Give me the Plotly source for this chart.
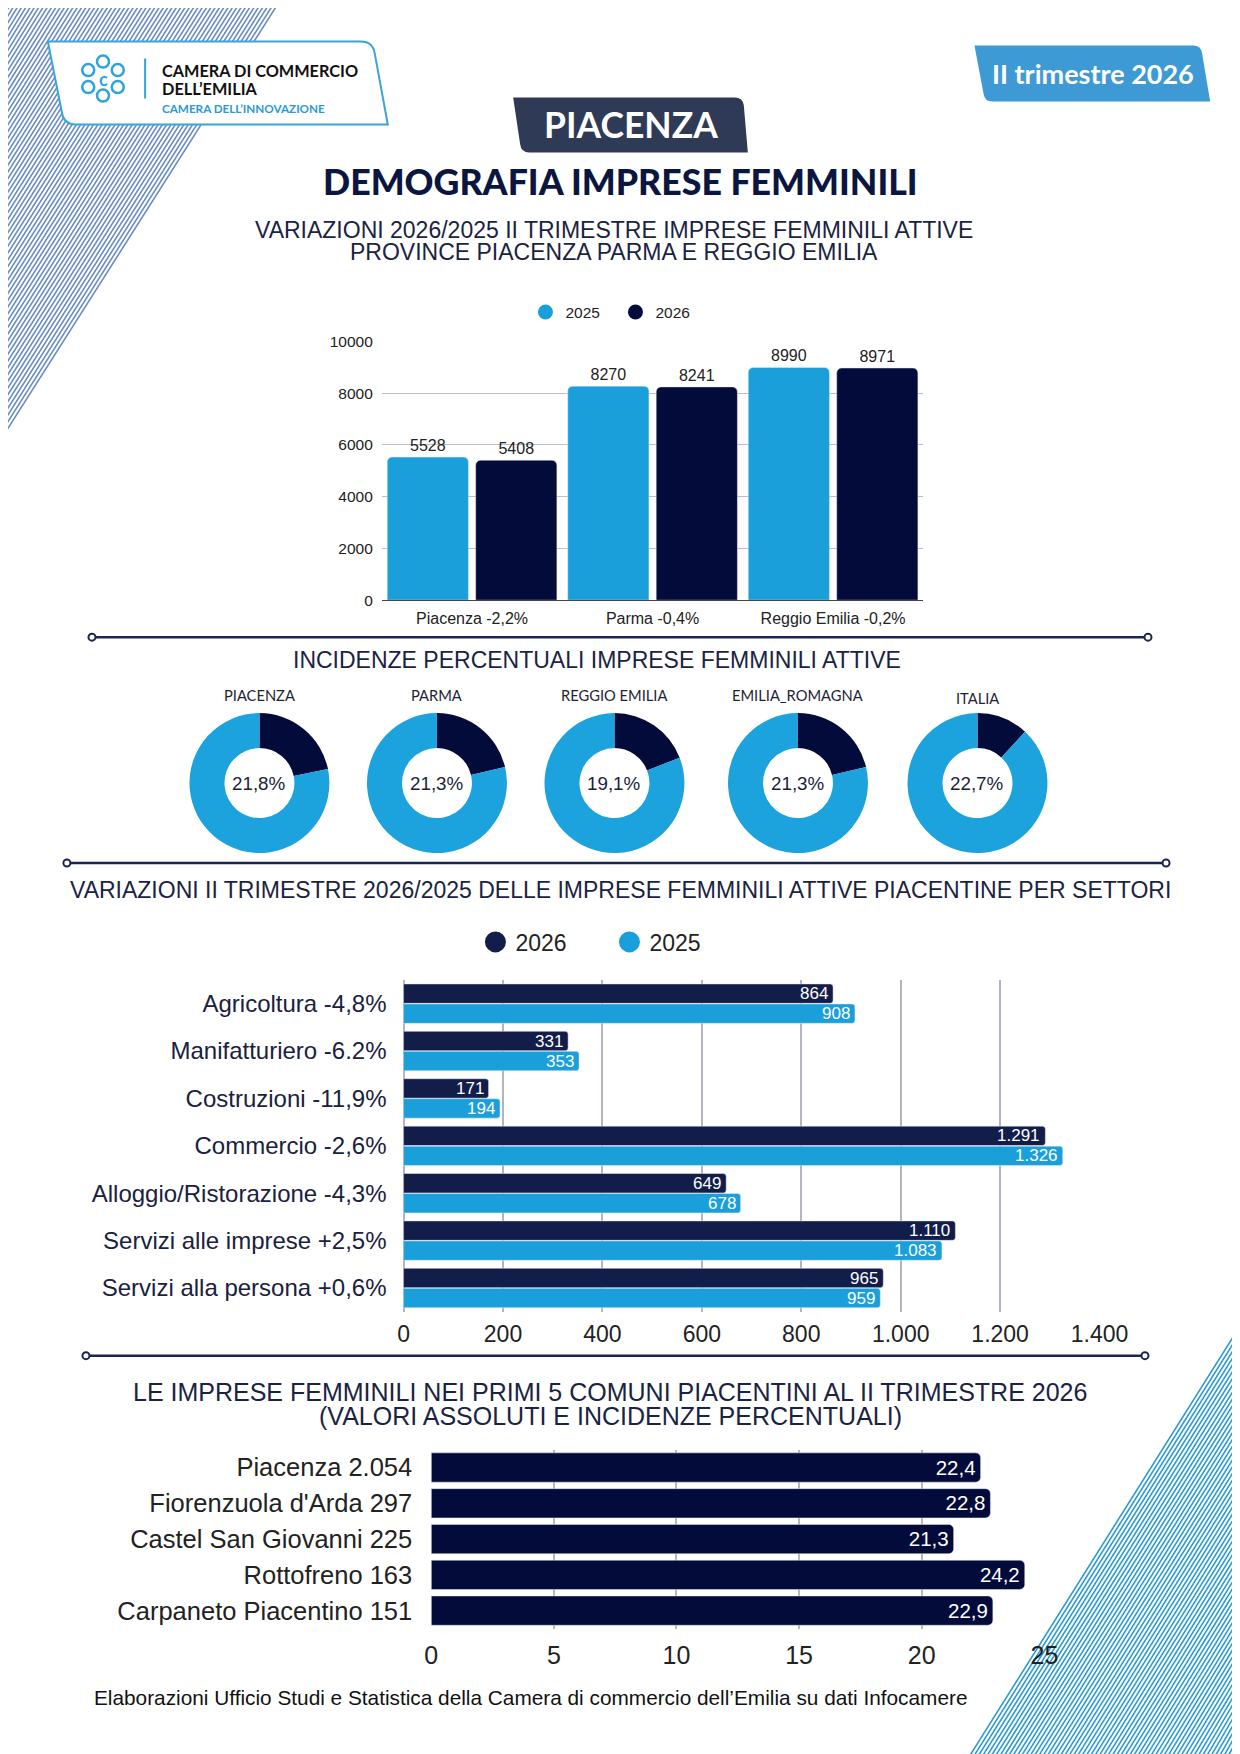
import math
import numpy as np
import plotly.graph_objects as go

# The page is photographed with a small offset and resampled (x 0.96875, y 0.99096);
# positions below are given in the final picture's pixels and mapped back to paper units.
SX, SY, MARG = 0.96875, 0.99096, 8
SHIFT_X, SHIFT_Y = 7.5, 8.5
WL, HL = 1264, 1754

# ---------------- DATA ----------------
prov_cat = ["Piacenza -2,2%", "Parma -0,4%", "Reggio Emilia -0,2%"]
prov_2025 = [5528, 8270, 8990]
prov_2026 = [5408, 8241, 8971]
prov_ticks = [0, 2000, 4000, 6000, 8000, 10000]

donut_names = ["PIACENZA", "PARMA", "REGGIO EMILIA", "EMILIA_ROMAGNA", "ITALIA"]
donut_labels = ["21,8%", "21,3%", "19,1%", "21,3%", "22,7%"]
donut_share = [21.8, 21.3, 19.1, 21.3, 11.9]   # dark slice as drawn in the picture

settori = ["Agricoltura -4,8%", "Manifatturiero -6.2%", "Costruzioni -11,9%",
           "Commercio -2,6%", "Alloggio/Ristorazione -4,3%",
           "Servizi alle imprese +2,5%", "Servizi alla persona +0,6%"]
sett_2026 = [864, 331, 171, 1291, 649, 1110, 965]
sett_2025 = [908, 353, 194, 1326, 678, 1083, 959]
sett_ticks = [0, 200, 400, 600, 800, 1000, 1200, 1400]

comuni = ["Piacenza 2.054", "Fiorenzuola d'Arda 297", "Castel San Giovanni 225",
          "Rottofreno 163", "Carpaneto Piacentino 151"]
comuni_inc = [22.4, 22.8, 21.3, 24.2, 22.9]
comuni_ticks = [0, 5, 10, 15, 20, 25]

# ---------------- STYLE ----------------
ARIAL = "Liberation Sans, Arial, sans-serif"
LATO = "Lato, Noto Sans, sans-serif"
LIGHT = "#1a9fdb"
DARK = "#030b3b"
DARK_S = "#121d4a"
NAVY_T = "#1b2342"
TXT = "#222222"
LBL = "#1a2140"


def px(x):
    return ((x - SHIFT_X) / SX - MARG) / WL


def py(y):
    return 1 - ((y - SHIFT_Y) / SY - MARG) / HL


def path(cmds):
    out = []
    for c in cmds:
        if isinstance(c, str):
            out.append(c)
        else:
            out.append(f"{px(c[0]):.5f},{py(c[1]):.5f}")
    return " ".join(out)


ann = []
shapes = []


def txt(x, y, text, size, color=NAVY_T, family=ARIAL, xanchor="center", weight=None):
    f = dict(size=size, color=color, family=family)
    if weight is not None:
        f["weight"] = weight
    ann.append(dict(x=px(x), y=py(y), xref="paper", yref="paper", text=text,
                    showarrow=False, xanchor=xanchor, yanchor="middle", font=f))


fig = go.Figure()

# ---------------- CHART 1 ----------------
fig.add_trace(go.Bar(x=prov_cat, y=prov_2025, name="2025", width=0.45, offset=-0.47,
                     marker=dict(color=LIGHT, cornerradius=5),
                     text=[str(v) for v in prov_2025], textposition="outside",
                     textfont=dict(size=16, color=TXT, family=ARIAL),
                     cliponaxis=False, showlegend=False, hoverinfo="skip",
                     xaxis="x", yaxis="y"))
fig.add_trace(go.Bar(x=prov_cat, y=prov_2026, name="2026", width=0.45, offset=0.02,
                     marker=dict(color=DARK, cornerradius=5),
                     text=[str(v) for v in prov_2026], textposition="outside",
                     textfont=dict(size=16, color=TXT, family=ARIAL),
                     cliponaxis=False, showlegend=False, hoverinfo="skip",
                     xaxis="x", yaxis="y"))
for nm, col in [("2025", LIGHT), ("2026", DARK)]:
    fig.add_trace(go.Scatter(x=[None], y=[None], mode="markers", name=nm,
                             marker=dict(size=15, color=col), legend="legend",
                             xaxis="x", yaxis="y", hoverinfo="skip"))

# ---------------- DONUTS ----------------
donut_cx = [259, 436, 613, 796, 975]
donut_cy = 783
R = 70
for i, s in enumerate(donut_share):
    cx = donut_cx[i]
    fig.add_trace(go.Pie(values=[s, 100 - s], sort=False, direction="clockwise", rotation=0,
                         hole=0.5, textinfo="none", hoverinfo="skip", showlegend=False,
                         marker=dict(colors=[DARK, "#1ca2dc"], line=dict(width=0)),
                         domain=dict(x=[px(cx - R), px(cx + R)],
                                     y=[py(donut_cy + R), py(donut_cy - R)])))

# ---------------- CHART 3 (settori) ----------------
fig.add_trace(go.Bar(y=settori, x=sett_2026, orientation="h", name="2026",
                     marker=dict(color=DARK_S, cornerradius=3), showlegend=False,
                     hoverinfo="skip", xaxis="x2", yaxis="y2"))
fig.add_trace(go.Bar(y=settori, x=sett_2025, orientation="h", name="2025",
                     marker=dict(color=LIGHT, cornerradius=3), showlegend=False,
                     hoverinfo="skip", xaxis="x2", yaxis="y2"))
for nm, col in [("2026", DARK_S), ("2025", LIGHT)]:
    fig.add_trace(go.Scatter(x=[None], y=[None], mode="markers", name=nm,
                             marker=dict(size=16, color=col, line=dict(color=col, width=5)),
                             legend="legend2", xaxis="x2", yaxis="y2", hoverinfo="skip"))

# ---------------- CHART 4 (comuni) ----------------
fig.add_trace(go.Bar(y=comuni, x=comuni_inc, orientation="h",
                     marker=dict(color=DARK, cornerradius=5),
                     text=[f"{v:.1f}".replace(".", ",") for v in comuni_inc],
                     textposition="inside", insidetextanchor="end", textangle=0,
                     textfont=dict(size=22, color="white", family=ARIAL),
                     showlegend=False, hoverinfo="skip", xaxis="x3", yaxis="y3"))


def fmt_it(v):
    return f"{v:,}".replace(",", ".")


for cat, v26, v25 in zip(settori, sett_2026, sett_2025):
    for v, sh in [(v26, 10), (v25, -10)]:
        ann.append(dict(x=v, y=cat, xref="x2", yref="y2", text=fmt_it(v), showarrow=False,
                        xanchor="right", yanchor="middle", xshift=-3, yshift=sh,
                        font=dict(size=17, color="white", family=ARIAL)))

# ---------------- DECORATION ----------------
segs = []
for c in np.arange(2.0, 290.0, 4.3):
    segs += ["M", (c, -10), "L", (-8, c * 427 / 272 + 5)]
shapes.append(dict(type="path", xref="paper", yref="paper", path=path(segs),
                   line=dict(color="#6a8cc2", width=1.6), layer="below"))
segs = []
for d in np.arange(2.0, 300.0, 4.3):
    segs += ["M", (963 + d, 1760), "L", (1250, 1754 - (277 - d) * 436 / 277 - 16)]
shapes.append(dict(type="path", xref="paper", yref="paper", path=path(segs),
                   line=dict(color="#2b9bd2", width=1.6), layer="below"))

# logo
shapes.append(dict(type="path", xref="paper", yref="paper",
                   path=path(["M", (48, 41), "L", (360, 41), "Q", (372, 41), (374, 53),
                              "L", (387, 124), "L", (76, 124), "Q", (64, 124), (62, 112), "Z"]),
                   fillcolor="white", line=dict(color="#3ba3dc", width=2), layer="below"))
shapes.append(dict(type="line", xref="paper", yref="paper", x0=px(145), x1=px(145),
                   y0=py(58), y1=py(98), line=dict(color="#2da3dc", width=2)))
lcx, lcy = 103, 78
for k in range(6):
    a = math.radians(30 + 60 * k)
    ox, oy = lcx + 17 * math.cos(a), lcy + 17 * math.sin(a)
    shapes.append(dict(type="circle", xref="paper", yref="paper",
                       x0=px(ox - 6), x1=px(ox + 6), y0=py(oy + 6), y1=py(oy - 6),
                       line=dict(color="#2da3dc", width=2.5)))
txt(lcx, lcy, "c", 18, "#2da3dc", LATO, weight="bold")
txt(160, 70, "CAMERA DI COMMERCIO", 16.3, "#111", LATO, "left", "bold")
txt(160, 88, "DELL’EMILIA", 16.3, "#111", LATO, "left", "bold")
txt(160, 107, "CAMERA DELL’INNOVAZIONE", 11.7, "#2a9ad6", LATO, "left", "bold")

# PIACENZA box
shapes.append(dict(type="path", xref="paper", yref="paper",
                   path=path(["M", (512, 97), "L", (733, 97), "Q", (741, 97), (742, 105),
                              "L", (746, 152), "L", (528, 152), "Q", (520, 152), (519, 144), "Z"]),
                   fillcolor="#2e3a56", line=dict(width=0), layer="below"))
txt(629, 124, "PIACENZA", 35.5, "white", LATO, weight="bold")
# trimestre box
shapes.append(dict(type="path", xref="paper", yref="paper",
                   path=path(["M", (972, 45), "L", (1190, 45), "Q", (1198, 45), (1199, 53),
                              "L", (1207, 101), "L", (990, 101), "Q", (982, 101), (981, 93), "Z"]),
                   fillcolor="#3d9ad5", line=dict(width=0), layer="below"))
txt(1090, 73, "II trimestre 2026", 27, "white", LATO, weight="bold")

# titles
txt(619, 181, "DEMOGRAFIA IMPRESE FEMMINILI", 35.7, "#0b1640", LATO, weight=900)
txt(613, 230, "VARIAZIONI 2026/2025 II TRIMESTRE IMPRESE FEMMINILI ATTIVE", 23)
txt(613, 252, "PROVINCE PIACENZA PARMA E REGGIO EMILIA", 23)
txt(596, 660, "INCIDENZE PERCENTUALI IMPRESE FEMMINILI ATTIVE", 23)
txt(619, 890, "VARIAZIONI II TRIMESTRE 2026/2025 DELLE IMPRESE FEMMINILI ATTIVE PIACENTINE PER SETTORI", 23)
txt(609, 1392, "LE IMPRESE FEMMINILI NEI PRIMI 5 COMUNI PIACENTINI AL II TRIMESTRE 2026", 25)
txt(609, 1416, "(VALORI ASSOLUTI E INCIDENZE PERCENTUALI)", 25)
txt(92, 1698, "Elaborazioni Ufficio Studi e Statistica della Camera di commercio dell’Emilia su dati Infocamere",
    20.8, "#111", ARIAL, "left")

for i in range(5):
    txt(donut_cx[i], 698 if i == 4 else 695, donut_names[i], 14.7, "#1e2435", LATO)
    txt(donut_cx[i], donut_cy, donut_labels[i], 18.8, "#1a1f3a", ARIAL)

# separators
for (yy, xa, xb) in [(637, 92, 1145), (863, 67, 1163), (1356, 86, 1142)]:
    shapes.append(dict(type="line", xref="paper", yref="paper", x0=px(xa), x1=px(xb),
                       y0=py(yy), y1=py(yy), line=dict(color="#1b2550", width=2.5)))
    for xe in (xa, xb):
        shapes.append(dict(type="circle", xref="paper", yref="paper",
                           x0=px(xe - 3.5), x1=px(xe + 3.5), y0=py(yy + 3.5), y1=py(yy - 3.5),
                           fillcolor="white", line=dict(color="#1b2550", width=2)))

fig.update_layout(
    width=WL, height=HL, margin=dict(l=0, r=0, t=0, b=0),
    paper_bgcolor="white", plot_bgcolor="rgba(0,0,0,0)",
    separators=",.", font=dict(family=ARIAL, color=TXT),
    barmode="group", bargap=0.156, bargroupgap=0.03,
    annotations=ann, shapes=shapes,
    xaxis=dict(domain=[px(381), px(921)], anchor="y", type="category",
               showline=True, linecolor="#444", linewidth=1.2, ticks="",
               tickfont=dict(size=16, color=TXT), ticklabelstandoff=4),
    yaxis=dict(domain=[py(600), py(341)], anchor="x", range=[0, 10000], tickvals=prov_ticks,
               tickformat="d", showgrid=True, gridcolor="#bdbdbd", gridwidth=1.2,
               zeroline=False, tickfont=dict(size=15.5, color=TXT), ticklabelstandoff=8),
    xaxis2=dict(domain=[px(402.7), px(1096.7)], anchor="y2", range=[0, 1400],
                tickvals=sett_ticks, tickformat=",d", showgrid=True, gridcolor="#b3b4c2",
                gridwidth=2, zeroline=True, zerolinecolor="#b3b4c2", zerolinewidth=2,
                tickfont=dict(size=23, color=TXT), ticklabelstandoff=6),
    yaxis2=dict(domain=[py(1312), py(980)], anchor="x2", type="category",
                autorange="reversed", tickfont=dict(size=24, color=LBL),
                ticklabelstandoff=16, showgrid=False),
    xaxis3=dict(domain=[px(430.3), px(1041.7)], anchor="y3", range=[0, 25],
                tickvals=comuni_ticks, showgrid=True, gridcolor="#b8b8b8", gridwidth=1.5,
                zeroline=False, tickfont=dict(size=25, color=TXT), ticklabelstandoff=9),
    yaxis3=dict(domain=[py(1629), py(1450)], anchor="x3", type="category",
                autorange="reversed", tickfont=dict(size=25.5, color=TXT),
                ticklabelstandoff=18, showgrid=False),
    legend=dict(orientation="h", x=px(614), xanchor="center", y=py(312), yanchor="middle",
                font=dict(size=15.5, color=TXT), bgcolor="rgba(0,0,0,0)", itemclick=False,
                entrywidth=45),
    legend2=dict(orientation="h", x=px(608), xanchor="center", y=py(942), yanchor="middle",
                 font=dict(size=23, color=TXT), bgcolor="rgba(0,0,0,0)", itemclick=False,
                 entrywidth=89),
)

fig.write_html("out.html")
